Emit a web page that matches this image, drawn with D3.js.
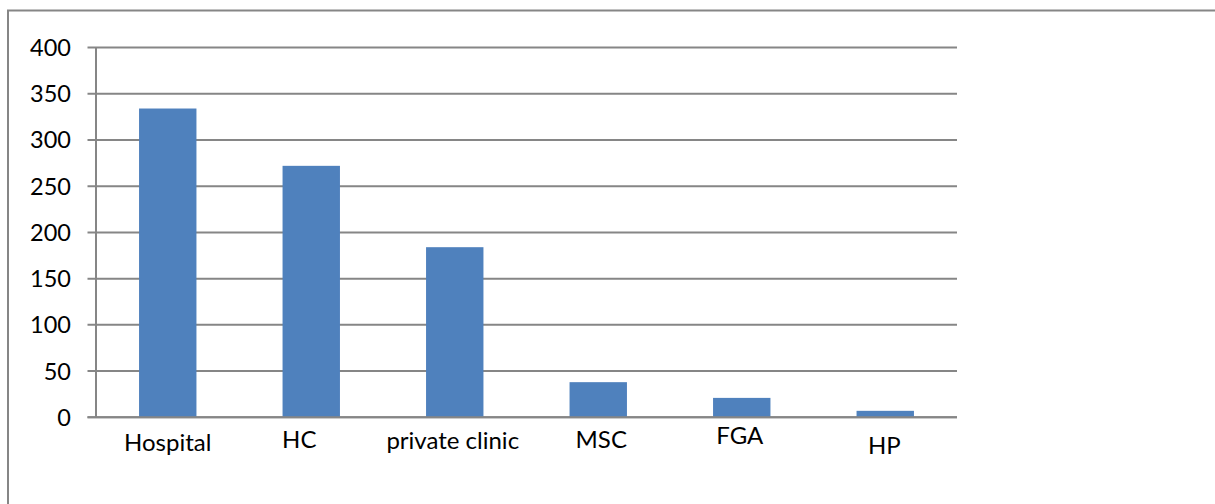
<!DOCTYPE html>
<html>
<head>
<meta charset="utf-8">
<script src="https://cdn.jsdelivr.net/npm/d3@7"></script>
<style>
  html, body { margin: 0; padding: 0; background: #fff; }
  svg { display: block; }
  text { font-family: Lato, "Open Sans", sans-serif; fill: #000; }
</style>
</head>
<body>
<svg id="chart" width="1215" height="504"></svg>
<script>
// Facility types and counts
const categories = ["Hospital", "HC", "private clinic", "MSC", "FGA", "HP"];
const counts = [334, 272, 184, 38, 21, 7];
const yTicks = [0, 50, 100, 150, 200, 250, 300, 350, 400];

const W = 1215, H = 504;
const plot = { left: 96, right: 957, top: 47.5, bottom: 417.3 };
const gridColor = "#868686";
const barColor = "#4f81bd";

const svg = d3.select("#chart");

// outer frame: top and left edges
svg.append("path")
  .attr("d", `M8,${H} L8,10.5 L${W},10.5`)
  .attr("fill", "none")
  .attr("stroke", gridColor)
  .attr("stroke-width", 2);

const x = d3.scaleBand()
  .domain(categories)
  .range([plot.left, plot.right])
  .paddingInner(0.6)
  .paddingOuter(0.3);

const y = d3.scaleLinear()
  .domain([0, 400])
  .range([plot.bottom, plot.top]);

// horizontal gridlines with tick stubs
svg.append("g")
  .selectAll("line")
  .data(yTicks)
  .join("line")
  .attr("x1", plot.left - 8.5)
  .attr("x2", plot.right)
  .attr("y1", d => y(d))
  .attr("y2", d => y(d))
  .attr("stroke", gridColor)
  .attr("stroke-width", 2);

// y-axis labels
svg.append("g")
  .selectAll("text")
  .data(yTicks)
  .join("text")
  .attr("x", 71)
  .attr("y", d => y(d))
  .attr("dy", "0.36em")
  .attr("text-anchor", "end")
  .attr("font-size", 23.5)
  .text(d => d);

// bars
svg.append("g")
  .selectAll("rect")
  .data(categories)
  .join("rect")
  .attr("x", d => x(d))
  .attr("width", x.bandwidth())
  .attr("y", (d, i) => y(counts[i]))
  .attr("height", (d, i) => y(0) - y(counts[i]))
  .attr("fill", barColor);

// y-axis line
svg.append("line")
  .attr("x1", plot.left).attr("x2", plot.left)
  .attr("y1", plot.top).attr("y2", plot.bottom)
  .attr("stroke", gridColor)
  .attr("stroke-width", 2);

// baseline
svg.append("line")
  .attr("x1", plot.left - 8.5).attr("x2", plot.right)
  .attr("y1", plot.bottom).attr("y2", plot.bottom)
  .attr("stroke", gridColor)
  .attr("stroke-width", 2);

// category labels, each nudged a little from its bar centre
const labelShiftX = [0, -12, -2, 3, -2, -1];
const labelShiftY = [0, -3, -2, -3, -7, 3];
svg.append("g")
  .selectAll("text")
  .data(categories)
  .join("text")
  .attr("x", (d, i) => x(d) + x.bandwidth() / 2 + labelShiftX[i])
  .attr("y", (d, i) => 451 + labelShiftY[i])
  .attr("text-anchor", "middle")
  .attr("font-size", 24)
  .text(d => d);
</script>
</body>
</html>
